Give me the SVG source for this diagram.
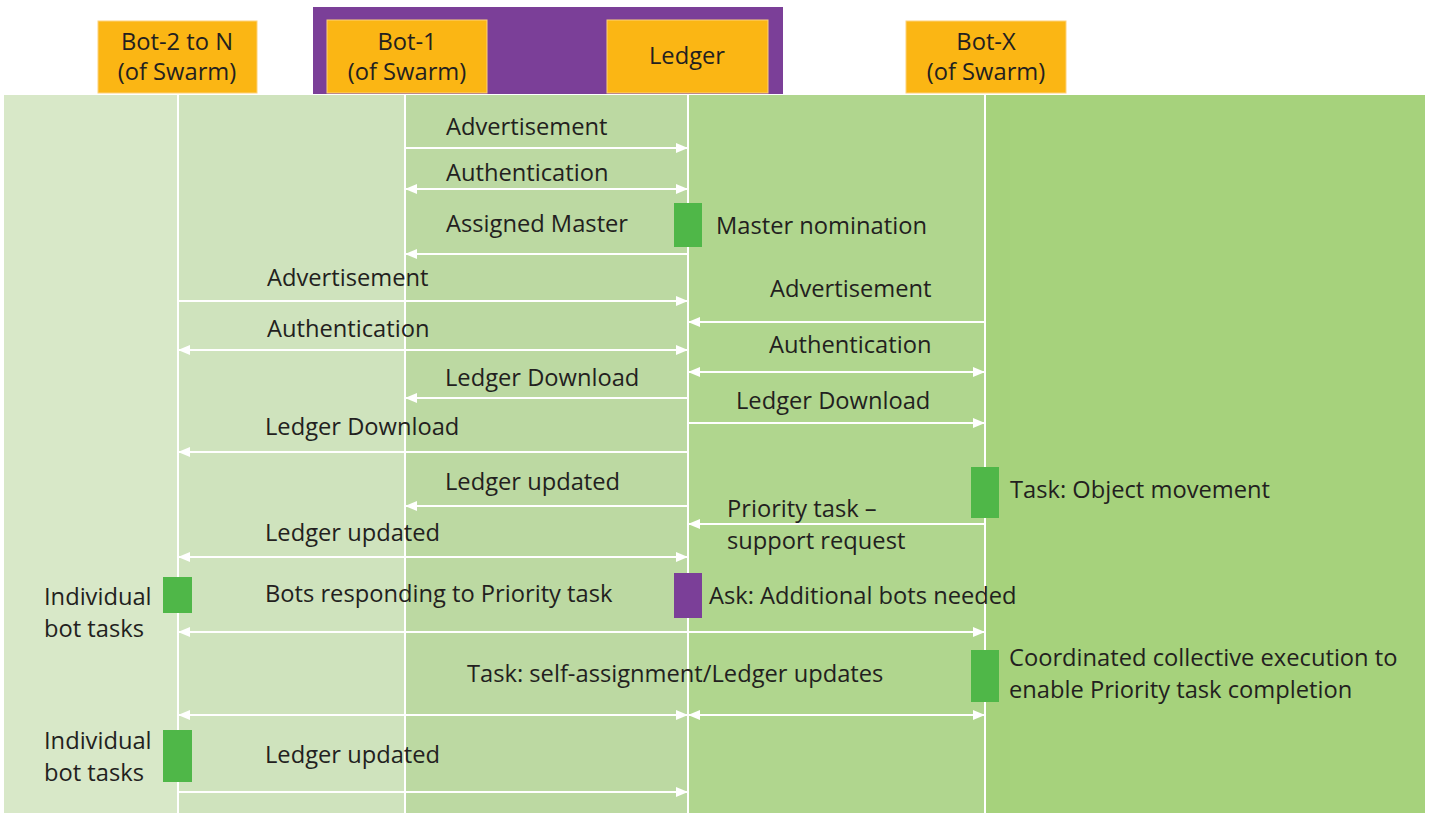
<svg xmlns="http://www.w3.org/2000/svg" width="1430" height="814" viewBox="0 0 1430 814">
  <style>
    text { font-family: "Open Sans", "Liberation Sans", sans-serif; font-size: 23.7px; fill: #231f20; }
    .hdr { fill: #fbb614; stroke: #fdd27a; stroke-width: 1; }
    .mid { text-anchor: middle; }
    .life { stroke: #ffffff; stroke-width: 2; }
    .msg { stroke: #ffffff; stroke-width: 2; fill: none; }
    .act { fill: #4fb748; }
    .ask { fill: #7b3f98; }
  </style>
  <defs>
    <marker id="head" viewBox="0 0 12 10" refX="12" refY="5" markerWidth="12" markerHeight="10" markerUnits="userSpaceOnUse" orient="auto-start-reverse">
      <path d="M0,0 L12,5 L0,10 Z" fill="#ffffff"/>
    </marker>
  </defs>

  <!-- swim bands -->
  <rect x="4" y="95" width="174" height="718" fill="#d8e8c8"/>
  <rect x="178" y="95" width="227" height="718" fill="#cfe3bd"/>
  <rect x="405" y="95" width="283" height="718" fill="#bcd9a2"/>
  <rect x="688" y="95" width="297" height="718" fill="#b0d68e"/>
  <rect x="985" y="95" width="440" height="718" fill="#a6d27c"/>

  <!-- master group frame -->
  <rect x="313" y="7" width="470" height="87" fill="#7b3f98"/>

  <!-- participants -->
  <g id="bot2n">
    <rect class="hdr" x="98" y="21" width="159" height="72"/>
    <text class="mid" x="177" y="50">Bot-2 to N</text>
    <text class="mid" x="177" y="80">(of Swarm)</text>
  </g>
  <g id="bot1">
    <rect class="hdr" x="327" y="20" width="160" height="73"/>
    <text class="mid" x="407" y="50">Bot-1</text>
    <text class="mid" x="407" y="80">(of Swarm)</text>
  </g>
  <g id="ledger">
    <rect class="hdr" x="607" y="20" width="161" height="73"/>
    <text class="mid" x="687" y="64">Ledger</text>
  </g>
  <g id="botx">
    <rect class="hdr" x="906" y="21" width="160" height="72"/>
    <text class="mid" x="986" y="50">Bot-X</text>
    <text class="mid" x="986" y="80">(of Swarm)</text>
  </g>

  <!-- lifelines -->
  <g id="lifelines">
    <line class="life" x1="178" y1="95" x2="178" y2="813"/>
    <line class="life" x1="405" y1="95" x2="405" y2="813"/>
    <line class="life" x1="688" y1="95" x2="688" y2="813"/>
    <line class="life" x1="985" y1="95" x2="985" y2="813"/>
  </g>

  <!-- activation boxes -->
  <g id="master-nomination">
    <rect class="act" x="674" y="203" width="28" height="44"/>
    <text x="716" y="234">Master nomination</text>
  </g>
  <g id="object-movement">
    <rect class="act" x="971" y="467" width="28" height="51"/>
    <text x="1010" y="498">Task: Object movement</text>
  </g>
  <g id="ask-bots">
    <rect class="ask" x="674" y="573" width="28" height="45"/>
    <text x="709" y="604">Ask: Additional bots needed</text>
  </g>
  <g id="collective-exec">
    <rect class="act" x="971" y="650" width="28" height="52"/>
    <text x="1009" y="666">Coordinated collective execution to</text>
    <text x="1009" y="698">enable Priority task completion</text>
  </g>
  <g id="bot-tasks-1">
    <rect class="act" x="163" y="577" width="29" height="36"/>
    <text x="44" y="605">Individual</text>
    <text x="44" y="637">bot tasks</text>
  </g>
  <g id="bot-tasks-2">
    <rect class="act" x="163" y="730" width="29" height="52"/>
    <text x="44" y="749">Individual</text>
    <text x="44" y="781">bot tasks</text>
  </g>

  <!-- messages -->
  <g id="connectors">
    <line class="msg" x1="405" y1="148" x2="688" y2="148" marker-end="url(#head)"/>
    <line class="msg" x1="405" y1="189" x2="688" y2="189" marker-start="url(#head)" marker-end="url(#head)"/>
    <line class="msg" x1="688" y1="254" x2="405" y2="254" marker-end="url(#head)"/>
    <line class="msg" x1="178" y1="301" x2="688" y2="301" marker-end="url(#head)"/>
    <line class="msg" x1="985" y1="322" x2="688" y2="322" marker-end="url(#head)"/>
    <line class="msg" x1="178" y1="350" x2="688" y2="350" marker-start="url(#head)" marker-end="url(#head)"/>
    <line class="msg" x1="688" y1="372" x2="985" y2="372" marker-start="url(#head)" marker-end="url(#head)"/>
    <line class="msg" x1="688" y1="398" x2="405" y2="398" marker-end="url(#head)"/>
    <line class="msg" x1="688" y1="423" x2="985" y2="423" marker-end="url(#head)"/>
    <line class="msg" x1="688" y1="452" x2="178" y2="452" marker-end="url(#head)"/>
    <line class="msg" x1="688" y1="506" x2="405" y2="506" marker-end="url(#head)"/>
    <line class="msg" x1="985" y1="524" x2="688" y2="524" marker-end="url(#head)"/>
    <line class="msg" x1="178" y1="557" x2="688" y2="557" marker-start="url(#head)" marker-end="url(#head)"/>
    <line class="msg" x1="178" y1="632" x2="985" y2="632" marker-start="url(#head)" marker-end="url(#head)"/>
    <line class="msg" x1="178" y1="715" x2="688" y2="715" marker-start="url(#head)" marker-end="url(#head)"/>
    <line class="msg" x1="688" y1="715" x2="985" y2="715" marker-start="url(#head)" marker-end="url(#head)"/>
    <line class="msg" x1="178" y1="792" x2="688" y2="792" marker-end="url(#head)"/>
  </g>

  <!-- message labels -->
  <g id="labels">
    <text x="446" y="135">Advertisement</text>
    <text x="446" y="181">Authentication</text>
    <text x="446" y="232">Assigned Master</text>
    <text x="267" y="286">Advertisement</text>
    <text x="770" y="297">Advertisement</text>
    <text x="267" y="337">Authentication</text>
    <text x="769" y="353">Authentication</text>
    <text x="445" y="386">Ledger Download</text>
    <text x="736" y="409">Ledger Download</text>
    <text x="265" y="435">Ledger Download</text>
    <text x="445" y="490">Ledger updated</text>
    <text x="727" y="517">Priority task –</text>
    <text x="727" y="549">support request</text>
    <text x="265" y="541">Ledger updated</text>
    <text x="265" y="602">Bots responding to Priority task</text>
    <text x="467" y="682">Task: self-assignment/Ledger updates</text>
    <text x="265" y="763">Ledger updated</text>
  </g>
</svg>
